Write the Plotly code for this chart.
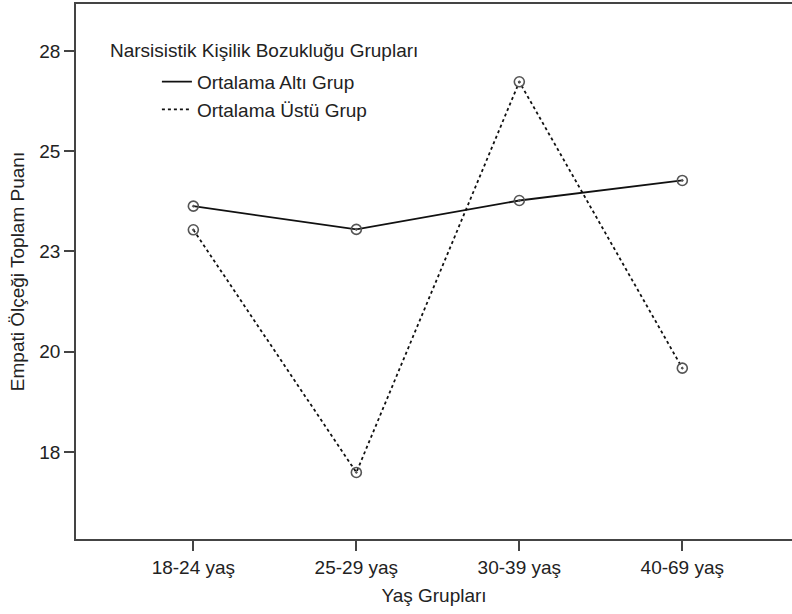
import plotly.graph_objects as go

categories = ["18-24 yaş", "25-29 yaş", "30-39 yaş", "40-69 yaş"]
alti_values = [23.63, 23.05, 23.77, 24.27]
ustu_values = [23.04, 16.99, 26.73, 19.59]
series_names = ["Ortalama Altı Grup", "Ortalama Üstü Grup"]
ytick_vals = [17.5, 20.0, 22.5, 25.0, 27.5]
ytick_text = ["18", "20", "23", "25", "28"]

FONT = "Liberation Sans, Arial, sans-serif"
FS = 19
xidx = list(range(len(categories)))

fig = go.Figure()
for vals, name, dash in [(alti_values, series_names[0], "solid"), (ustu_values, series_names[1], "dot")]:
    fig.add_trace(go.Scatter(
        x=xidx, y=vals, mode="lines+markers", name=name, showlegend=False,
        line=dict(color="#111111", width=1.8, dash=dash),
        marker=dict(symbol="circle-open-dot", size=10, color="#555555", line=dict(width=1.6, color="#555555")),
    ))
    fig.add_trace(go.Scatter(
        x=[None], y=[None], mode="lines", name=name, showlegend=True,
        line=dict(color="#111111", width=1.8, dash=dash),
    ))

fig.update_layout(
    width=792, height=614,
    margin=dict(l=76, r=0, t=4, b=75),
    paper_bgcolor="white", plot_bgcolor="white",
    font=dict(family=FONT, size=FS, color="#222222"),
    showlegend=True,
    legend=dict(x=0.113, y=0.89, xanchor="left", yanchor="top", bgcolor="rgba(0,0,0,0)",
                font=dict(size=FS), tracegroupgap=0, itemwidth=30),
    annotations=[dict(text="Narsisistik Kişilik Bozukluğu Grupları", xref="paper", yref="paper",
                      x=0.045, y=0.914, xanchor="left", yanchor="middle", showarrow=False,
                      font=dict(size=FS, family=FONT, color="#222222"))],
)
fig.update_xaxes(
    range=[-0.72, 3.673], tickvals=xidx, ticktext=categories,
    showline=True, linecolor="#444444", linewidth=1.5, mirror=True,
    ticks="outside", ticklen=10, tickwidth=1.5, tickcolor="#444444",
    showgrid=False, zeroline=False,
    title=dict(text="Yaş Grupları", standoff=12, font=dict(size=FS)),
)
fig.update_yaxes(
    range=[15.33, 28.67], tickvals=ytick_vals, ticktext=ytick_text,
    showline=True, linecolor="#444444", linewidth=1.5,
    ticks="outside", ticklen=10, tickwidth=1.5, tickcolor="#444444",
    showgrid=False, zeroline=False,
    title=dict(text="Empati Ölçeği Toplam Puanı", standoff=10, font=dict(size=FS)),
)

fig.write_html("out.html", config={"displayModeBar": False},
               post_script="document.body.style.margin='0';")
